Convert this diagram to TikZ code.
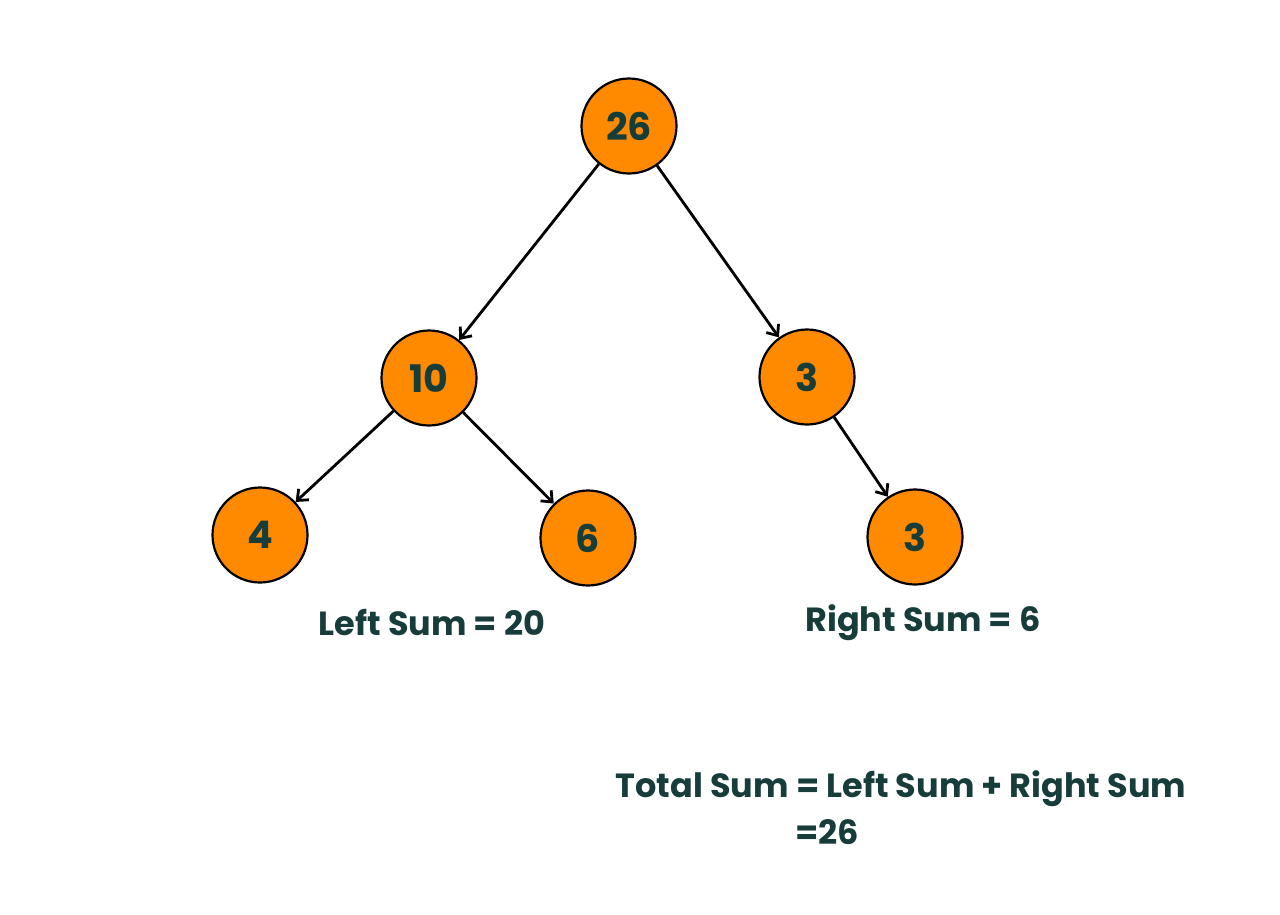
\documentclass[tikz,border=0pt]{standalone}
\usepackage{fontspec}
\setmainfont{Poppins}
\usetikzlibrary{arrows.meta}
\definecolor{tealtext}{HTML}{173D3B}
\definecolor{nodeorange}{HTML}{FF8A00}
\begin{document}
\begin{tikzpicture}[x=1pt,y=-1pt,
  tnode/.style={circle,draw=black,line width=2.2pt,fill=nodeorange,minimum size=95pt,inner sep=0pt,
    font=\fontsize{38}{42}\selectfont\bfseries,text=tealtext},
  edge/.style={draw=black,line width=2.8pt,-{Straight Barb[length=9pt,width=15pt,line width=2.8pt]}},
  lbl/.style={font=\fontsize{33.5}{38}\selectfont\bfseries,text=tealtext,inner sep=0pt}]
\useasboundingbox (0,0) rectangle (1280,914);
\node[tnode] (r) at (629,126) {26};
\node[tnode] (a) at (429,378) {10};
\node[tnode] (b) at (807,377) {3};
\node[tnode] (c) at (260,535) {4};
\node[tnode] (d) at (588,538) {6};
\node[tnode] (e) at (915,537) {3};
\draw[edge] (r) -- (a);
\draw[edge] (r) -- (b);
\draw[edge] (a) -- (c);
\draw[edge] (a) -- (d);
\draw[edge] (b) -- (e);
\node[lbl] (ls) at (432,622) {Left Sum = 20};
\node[lbl] (rs) at (923,623) {Right Sum = 6};
\node[lbl] (ts) at (901,789) {Total Sum = Left Sum + Right Sum};
\node[lbl,anchor=west] (eq) at (795,832) {=26};
\end{tikzpicture}
\end{document}
